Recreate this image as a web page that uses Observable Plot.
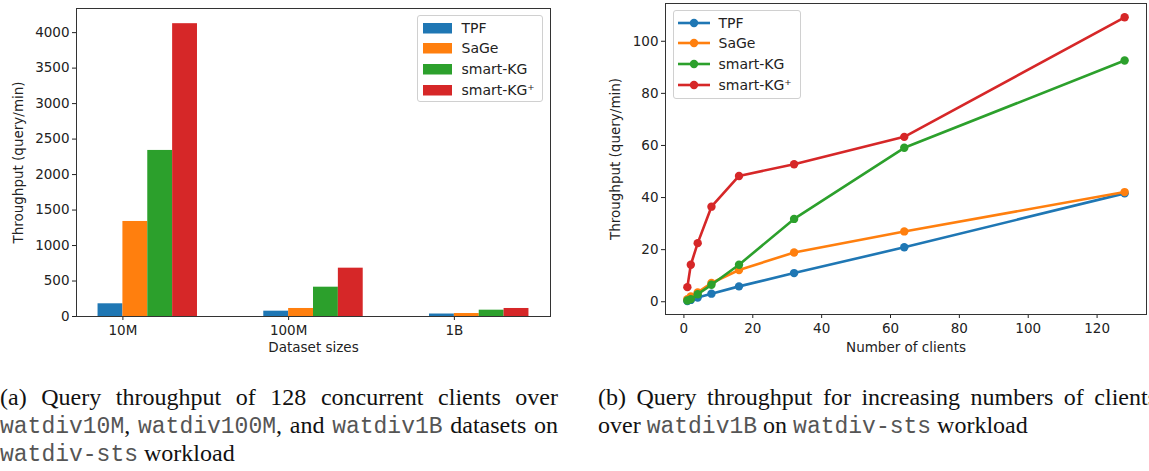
<!DOCTYPE html>
<html><head><meta charset="utf-8">
<script src="https://cdn.jsdelivr.net/npm/d3@7"></script>
<script src="https://cdn.jsdelivr.net/npm/@observablehq/plot@0.6"></script>
<style>
html,body{margin:0;padding:0;background:#fff;overflow:hidden;}
#root{position:relative;width:1149px;height:471px;overflow:hidden;background:#fff;}
.chart{position:absolute;top:0;}
.legend{position:absolute;border:1px solid #d0d0d0;border-radius:3px;background:rgba(255,255,255,0.85);font:14px "DejaVu Sans",sans-serif;color:#222;box-sizing:border-box;}
.legend .row{position:absolute;left:0;right:0;height:20px;}
.legend .txt{position:absolute;line-height:20px;white-space:nowrap;}
.cap{position:absolute;font:24px "Liberation Serif","DejaVu Serif",serif;color:#111;white-space:nowrap;line-height:28px;height:28px;}
.cap.j{text-align:justify;text-align-last:justify;white-space:normal;}
code{font-family:"Liberation Mono","DejaVu Sans Mono",monospace;font-size:23px;color:#555;}
</style>
</head><body>
<div id="root"></div>
<script>
// ---------- data ----------
const series = ["TPF", "SaGe", "smart-KG", "smart-KG\u207A"];
const colors = ["#1f77b4", "#ff7f0e", "#2ca02c", "#d62728"];

// (a) bar chart: throughput of 128 concurrent clients per dataset size
const datasetSizes = ["10M", "100M", "1B"];
const barTPF      = [179, 75, 35];
const barSaGe     = [1339, 113, 42];
const barSmartKG  = [2340, 413, 89];
const barSmartKGp = [4126, 681, 113];
const barTicks = [0, 500, 1000, 1500, 2000, 2500, 3000, 3500, 4000];

// (b) line chart: throughput vs number of clients (watdiv1B)
const clients      = [1, 2, 4, 8, 16, 32, 64, 128];
const lineTPF      = [0.3, 0.7, 1.6, 3.1, 5.9, 11.0, 20.9, 41.6];
const lineSaGe     = [1.0, 2.0, 3.6, 7.2, 12.2, 18.9, 27.0, 42.1];
const lineSmartKG  = [0.5, 1.0, 2.9, 6.5, 14.2, 31.8, 59.1, 92.6];
const lineSmartKGp = [5.6, 14.2, 22.5, 36.5, 48.3, 52.8, 63.3, 109.2];
const lineYTicks = [0, 20, 40, 60, 80, 100];
const lineXTicks = [0, 20, 40, 60, 80, 100, 120];

// ---------- build tables ----------
const barValues = [barTPF, barSaGe, barSmartKG, barSmartKGp];
const bars = [];
series.forEach((s, j) => datasetSizes.forEach((c, i) => bars.push({i, j, series: s, value: barValues[j][i]})));

const lineValues = [lineTPF, lineSaGe, lineSmartKG, lineSmartKGp];
const pts = series.map((s, j) => clients.map((c, k) => ({series: s, clients: c, value: lineValues[j][k]})));

const root = document.getElementById("root");
const FS = 13.5;
const font = {fontFamily: "DejaVu Sans, sans-serif", fontSize: FS + "px", color: "#222", background: "transparent"};
const barW = 0.15;
const plain = d => String(d);

// ---------- (a) ----------
const chartA = Plot.plot({
  width: 575, height: 370, marginLeft: 76, marginRight: 25, marginTop: 8, marginBottom: 54,
  style: font,
  x: {domain: [-0.28, 2.58]},
  y: {domain: [0, 4340]},
  color: {domain: series, range: colors},
  marks: [
    Plot.rectY(bars, {x1: d => d.i - barW + barW * d.j, x2: d => d.i + barW * d.j, y1: 0, y2: "value", fill: "series"}),
    Plot.axisX({ticks: [0, 1, 2], tickFormat: i => datasetSizes[i], tickSize: 4, tickPadding: 5, label: null, fontSize: FS}),
    Plot.axisY({ticks: barTicks, tickFormat: plain, tickSize: 4, tickPadding: 3, label: null, fontSize: FS}),
    Plot.frame({stroke: "#333", strokeWidth: 1}),
    Plot.text(["Dataset sizes"], {text: d => d, frameAnchor: "bottom", dy: 35, fill: "#222", fontSize: FS}),
    Plot.text(["Throughput (query/min)"], {text: d => d, frameAnchor: "left", textAnchor: "middle", dx: -58, rotate: -90, fill: "#222", fontSize: FS})
  ]
});
chartA.classList.add("chart");
chartA.style.left = "0px";
root.appendChild(chartA);

// ---------- (b) ----------
const lineMarks = [];
pts.forEach((p, j) => {
  lineMarks.push(Plot.line(p, {x: "clients", y: "value", stroke: colors[j], strokeWidth: 2.6}));
  lineMarks.push(Plot.dot(p, {x: "clients", y: "value", r: 4.2, fill: colors[j], stroke: "none"}));
});
const chartB = Plot.plot({
  width: 569, height: 370, marginLeft: 85, marginRight: 3, marginTop: 3, marginBottom: 56,
  style: font,
  x: {domain: [-5.35, 134.35]},
  y: {domain: [-4.9, 114.5]},
  marks: [
    ...lineMarks,
    Plot.axisX({ticks: lineXTicks, tickFormat: plain, tickSize: 4, tickPadding: 5, label: null, fontSize: FS}),
    Plot.axisY({ticks: lineYTicks, tickFormat: plain, tickSize: 4, tickPadding: 3, label: null, fontSize: FS}),
    Plot.frame({stroke: "#333", strokeWidth: 1}),
    Plot.text(["Number of clients"], {text: d => d, frameAnchor: "bottom", dy: 37, fill: "#222", fontSize: FS}),
    Plot.text(["Throughput (query/min)"], {text: d => d, frameAnchor: "left", textAnchor: "middle", dx: -50, rotate: -90, fill: "#222", fontSize: FS})
  ]
});
chartB.classList.add("chart");
chartB.style.left = "580px";
root.appendChild(chartB);

// ---------- legends ----------
function legend(left, top, w, h, kind) {
  const box = document.createElement("div");
  box.className = "legend";
  Object.assign(box.style, {left: left + "px", top: top + "px", width: w + "px", height: h + "px"});
  series.forEach((s, j) => {
    const row = document.createElement("div");
    row.className = "row";
    row.style.top = (1.5 + 20.9 * j) + "px";
    const sw = document.createElementNS("http://www.w3.org/2000/svg", "svg");
    sw.setAttribute("width", 34); sw.setAttribute("height", 20);
    sw.style.position = "absolute"; sw.style.left = "3px"; sw.style.top = "0px";
    if (kind === "bar") {
      sw.innerHTML = `<rect x="2" y="5" width="29" height="10.5" fill="${colors[j]}"/>`;
    } else {
      sw.innerHTML = `<line x1="1" x2="33" y1="10" y2="10" stroke="${colors[j]}" stroke-width="2.6"/><circle cx="17" cy="10" r="4.2" fill="${colors[j]}"/>`;
    }
    row.appendChild(sw);
    const t = document.createElement("div");
    t.className = "txt";
    t.style.left = (kind === "bar" ? 44 : 45) + "px";
    t.style.top = "0px";
    t.textContent = s;
    row.appendChild(t);
    box.appendChild(row);
  });
  root.appendChild(box);
}
legend(416.5, 15, 126, 87, "bar");
legend(672.5, 10, 128, 89, "line");

// ---------- captions ----------
function cap(left, top, w, html, justify) {
  const d = document.createElement("div");
  d.className = "cap" + (justify ? " j" : "");
  Object.assign(d.style, {left: left + "px", top: top + "px", width: w + "px"});
  d.innerHTML = html;
  root.appendChild(d);
}
const t0 = 382.5, lh = 28.3;
cap(0, t0, 558, "(a) Query throughput of 128 concurrent clients over", true);
cap(0, t0 + lh, 558, "<code>watdiv10M</code>, <code>watdiv100M</code>, and <code>watdiv1B</code> datasets on", true);
cap(0, t0 + 2 * lh, 558, "<code>watdiv-sts</code> workload", false);
cap(598, t0, 559, "(b) Query throughput for increasing numbers of clients", true);
cap(598, t0 + lh, 559, "over <code>watdiv1B</code> on <code>watdiv-sts</code> workload", false);
</script>
</body></html>
